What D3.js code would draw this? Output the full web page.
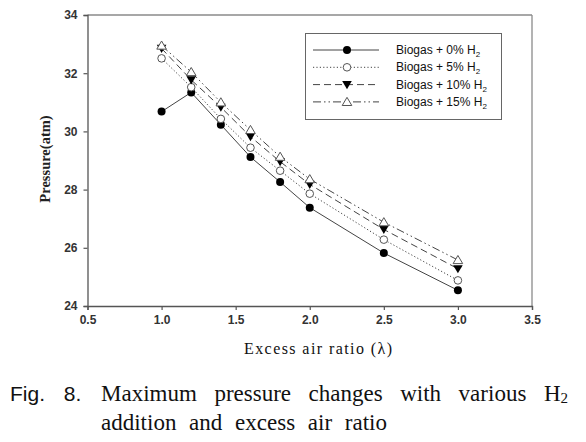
<!DOCTYPE html>
<html>
<head>
<meta charset="utf-8">
<script src="https://cdn.jsdelivr.net/npm/d3@7"></script>
<style>
html,body{margin:0;padding:0;background:#fff;}
svg{display:block;}
</style>
</head>
<body>
<svg id="chart" width="586" height="442"></svg>
<script>
// ---- data ----
const lambdaValues = [1.0, 1.2, 1.4, 1.6, 1.8, 2.0, 2.5, 3.0];
const seriesNames = ["Biogas + 0% H", "Biogas + 5% H", "Biogas + 10% H", "Biogas + 15% H"];
const h2_0  = [30.68, 31.34, 30.23, 29.12, 28.26, 27.38, 25.82, 24.54];
const h2_5  = [32.51, 31.52, 30.43, 29.44, 28.65, 27.86, 26.28, 24.88];
const h2_10 = [32.85, 31.77, 30.83, 29.82, 28.96, 28.18, 26.63, 25.28];
const h2_15 = [32.95, 32.04, 31.00, 30.05, 29.13, 28.36, 26.88, 25.58];
const xTicks = [0.5, 1.0, 1.5, 2.0, 2.5, 3.0, 3.5];
const yTicks = [24, 26, 28, 30, 32, 34];

(function () {
const svg = d3.select("#chart");
const pLeft = 87.5, pRight = 532, pTop = 15, pBottom = 306;
const x = d3.scaleLinear().domain([0.5, 3.5]).range([pLeft, pRight]);
const y = d3.scaleLinear().domain([24, 34]).range([pBottom, pTop]);
const serif = "Liberation Serif, Times New Roman, serif";
const sans = "Liberation Sans, Arial, sans-serif";

// frame (top/right light)
svg.append("line").attr("x1", pLeft).attr("x2", pRight).attr("y1", pTop).attr("y2", pTop)
  .attr("stroke", "#8a8a8a").attr("stroke-width", 1.3);
svg.append("line").attr("x1", pRight).attr("x2", pRight).attr("y1", pTop).attr("y2", pBottom)
  .attr("stroke", "#8a8a8a").attr("stroke-width", 1.3);

const xAxis = svg.append("g").attr("transform", `translate(0,${pBottom})`)
  .call(d3.axisBottom(x).tickValues(xTicks).tickFormat(d3.format(".1f")).tickSize(4).tickPadding(5));
const yAxis = svg.append("g").attr("transform", `translate(${pLeft},0)`)
  .call(d3.axisLeft(y).tickValues(yTicks).tickFormat(d3.format("d")).tickSize(4).tickPadding(6));
[xAxis, yAxis].forEach(g => {
  g.select(".domain").attr("stroke", "#555").attr("stroke-width", 1.3);
  g.selectAll(".tick line").attr("stroke", "#555").attr("stroke-width", 1.2);
  g.selectAll(".tick text").attr("font-family", sans).attr("font-size", 12)
    .attr("font-weight", "bold").attr("fill", "#333");
});

// series
const series = [
  {name: seriesNames[0], vals: h2_0,  dash: null,               marker: "fcircle"},
  {name: seriesNames[1], vals: h2_5,  dash: "1.2,2.2",          marker: "ocircle"},
  {name: seriesNames[2], vals: h2_10, dash: "7,4",              marker: "ftri"},
  {name: seriesNames[3], vals: h2_15, dash: "8,3,1.5,3,1.5,3",  marker: "otri"}
];
const lineGen = d3.line().x(d => x(d[0])).y(d => y(d[1]));

function drawMarker(g, type, cx, cy) {
  if (type === "fcircle") {
    g.append("circle").attr("cx", cx).attr("cy", cy).attr("r", 4).attr("fill", "#000");
  } else if (type === "ocircle") {
    g.append("circle").attr("cx", cx).attr("cy", cy).attr("r", 3.8).attr("fill", "#fff")
      .attr("stroke", "#555").attr("stroke-width", 1);
  } else if (type === "ftri") {
    const s = 4.8;
    g.append("path").attr("d", `M${cx - s},${cy - s * 0.75}L${cx + s},${cy - s * 0.75}L${cx},${cy + s * 0.95}Z`)
      .attr("fill", "#000");
  } else if (type === "otri") {
    const s = 4.8;
    g.append("path").attr("d", `M${cx - s},${cy + s * 0.75}L${cx + s},${cy + s * 0.75}L${cx},${cy - s * 0.95}Z`)
      .attr("fill", "#fff").attr("stroke", "#555").attr("stroke-width", 1);
  }
}

const plotG = svg.append("g");
series.forEach(s => {
  const pts = lambdaValues.map((l, i) => [l, s.vals[i]]);
  plotG.append("path").attr("d", lineGen(pts)).attr("fill", "none")
    .attr("stroke", "#444").attr("stroke-width", 1)
    .attr("stroke-dasharray", s.dash);
});
series.forEach(s => {
  lambdaValues.forEach((l, i) => drawMarker(plotG, s.marker, x(l), y(s.vals[i])));
});

// legend
const lg = svg.append("g");
lg.append("rect").attr("x", 305.5).attr("y", 33.5).attr("width", 196).attr("height", 86)
  .attr("fill", "#fff").attr("stroke", "#666").attr("stroke-width", 1);
series.forEach((s, i) => {
  const ly = 50 + i * 17.3;
  lg.append("line").attr("x1", 313).attr("x2", 379).attr("y1", ly).attr("y2", ly)
    .attr("stroke", "#444").attr("stroke-width", 1).attr("stroke-dasharray", s.dash);
  drawMarker(lg, s.marker, 347, ly);
  const t = lg.append("text").attr("x", 396).attr("y", ly + 4)
    .attr("font-family", sans).attr("font-size", 12).attr("fill", "#111");
  t.append("tspan").text(s.name);
  t.append("tspan").attr("font-size", 8).attr("dy", 3).text("2");
});

// axis titles
svg.append("text").attr("transform", "translate(50,159) rotate(-90)")
  .attr("text-anchor", "middle").attr("font-family", serif)
  .attr("font-size", 14.5).attr("font-weight", "bold").attr("fill", "#222")
  .text("Pressure(atm)");
svg.append("text").attr("x", 244).attr("y", 354)
  .attr("font-family", serif)
  .attr("font-size", 16).attr("fill", "#111")
  .attr("textLength", 148).attr("lengthAdjust", "spacing")
  .text("Excess air ratio (λ)");

// caption with justified word spacing
function justified(xs, ys, target, size, build) {
  const t = svg.append("text").attr("x", xs).attr("y", ys)
    .attr("font-family", serif).attr("font-size", size).attr("fill", "#111");
  const nSpaces = build(t);
  const w = t.node().getComputedTextLength();
  t.attr("word-spacing", Math.max(0, (target - w) / nSpaces));
  return t;
}
svg.append("text").attr("x", 10).attr("y", 401)
  .attr("font-family", sans)
  .attr("font-size", 21).attr("fill", "#111").attr("word-spacing", 13)
  .text("Fig. 8.");
justified(101, 401, 467, 23, t => {
  t.append("tspan").text("Maximum pressure changes with various H");
  t.append("tspan").attr("font-size", 15).attr("dy", 2).text("2");
  return 5;
});
justified(101, 430, 286, 23, t => {
  t.text("addition and excess air ratio");
  return 4;
});
})();
</script>
</body>
</html>
